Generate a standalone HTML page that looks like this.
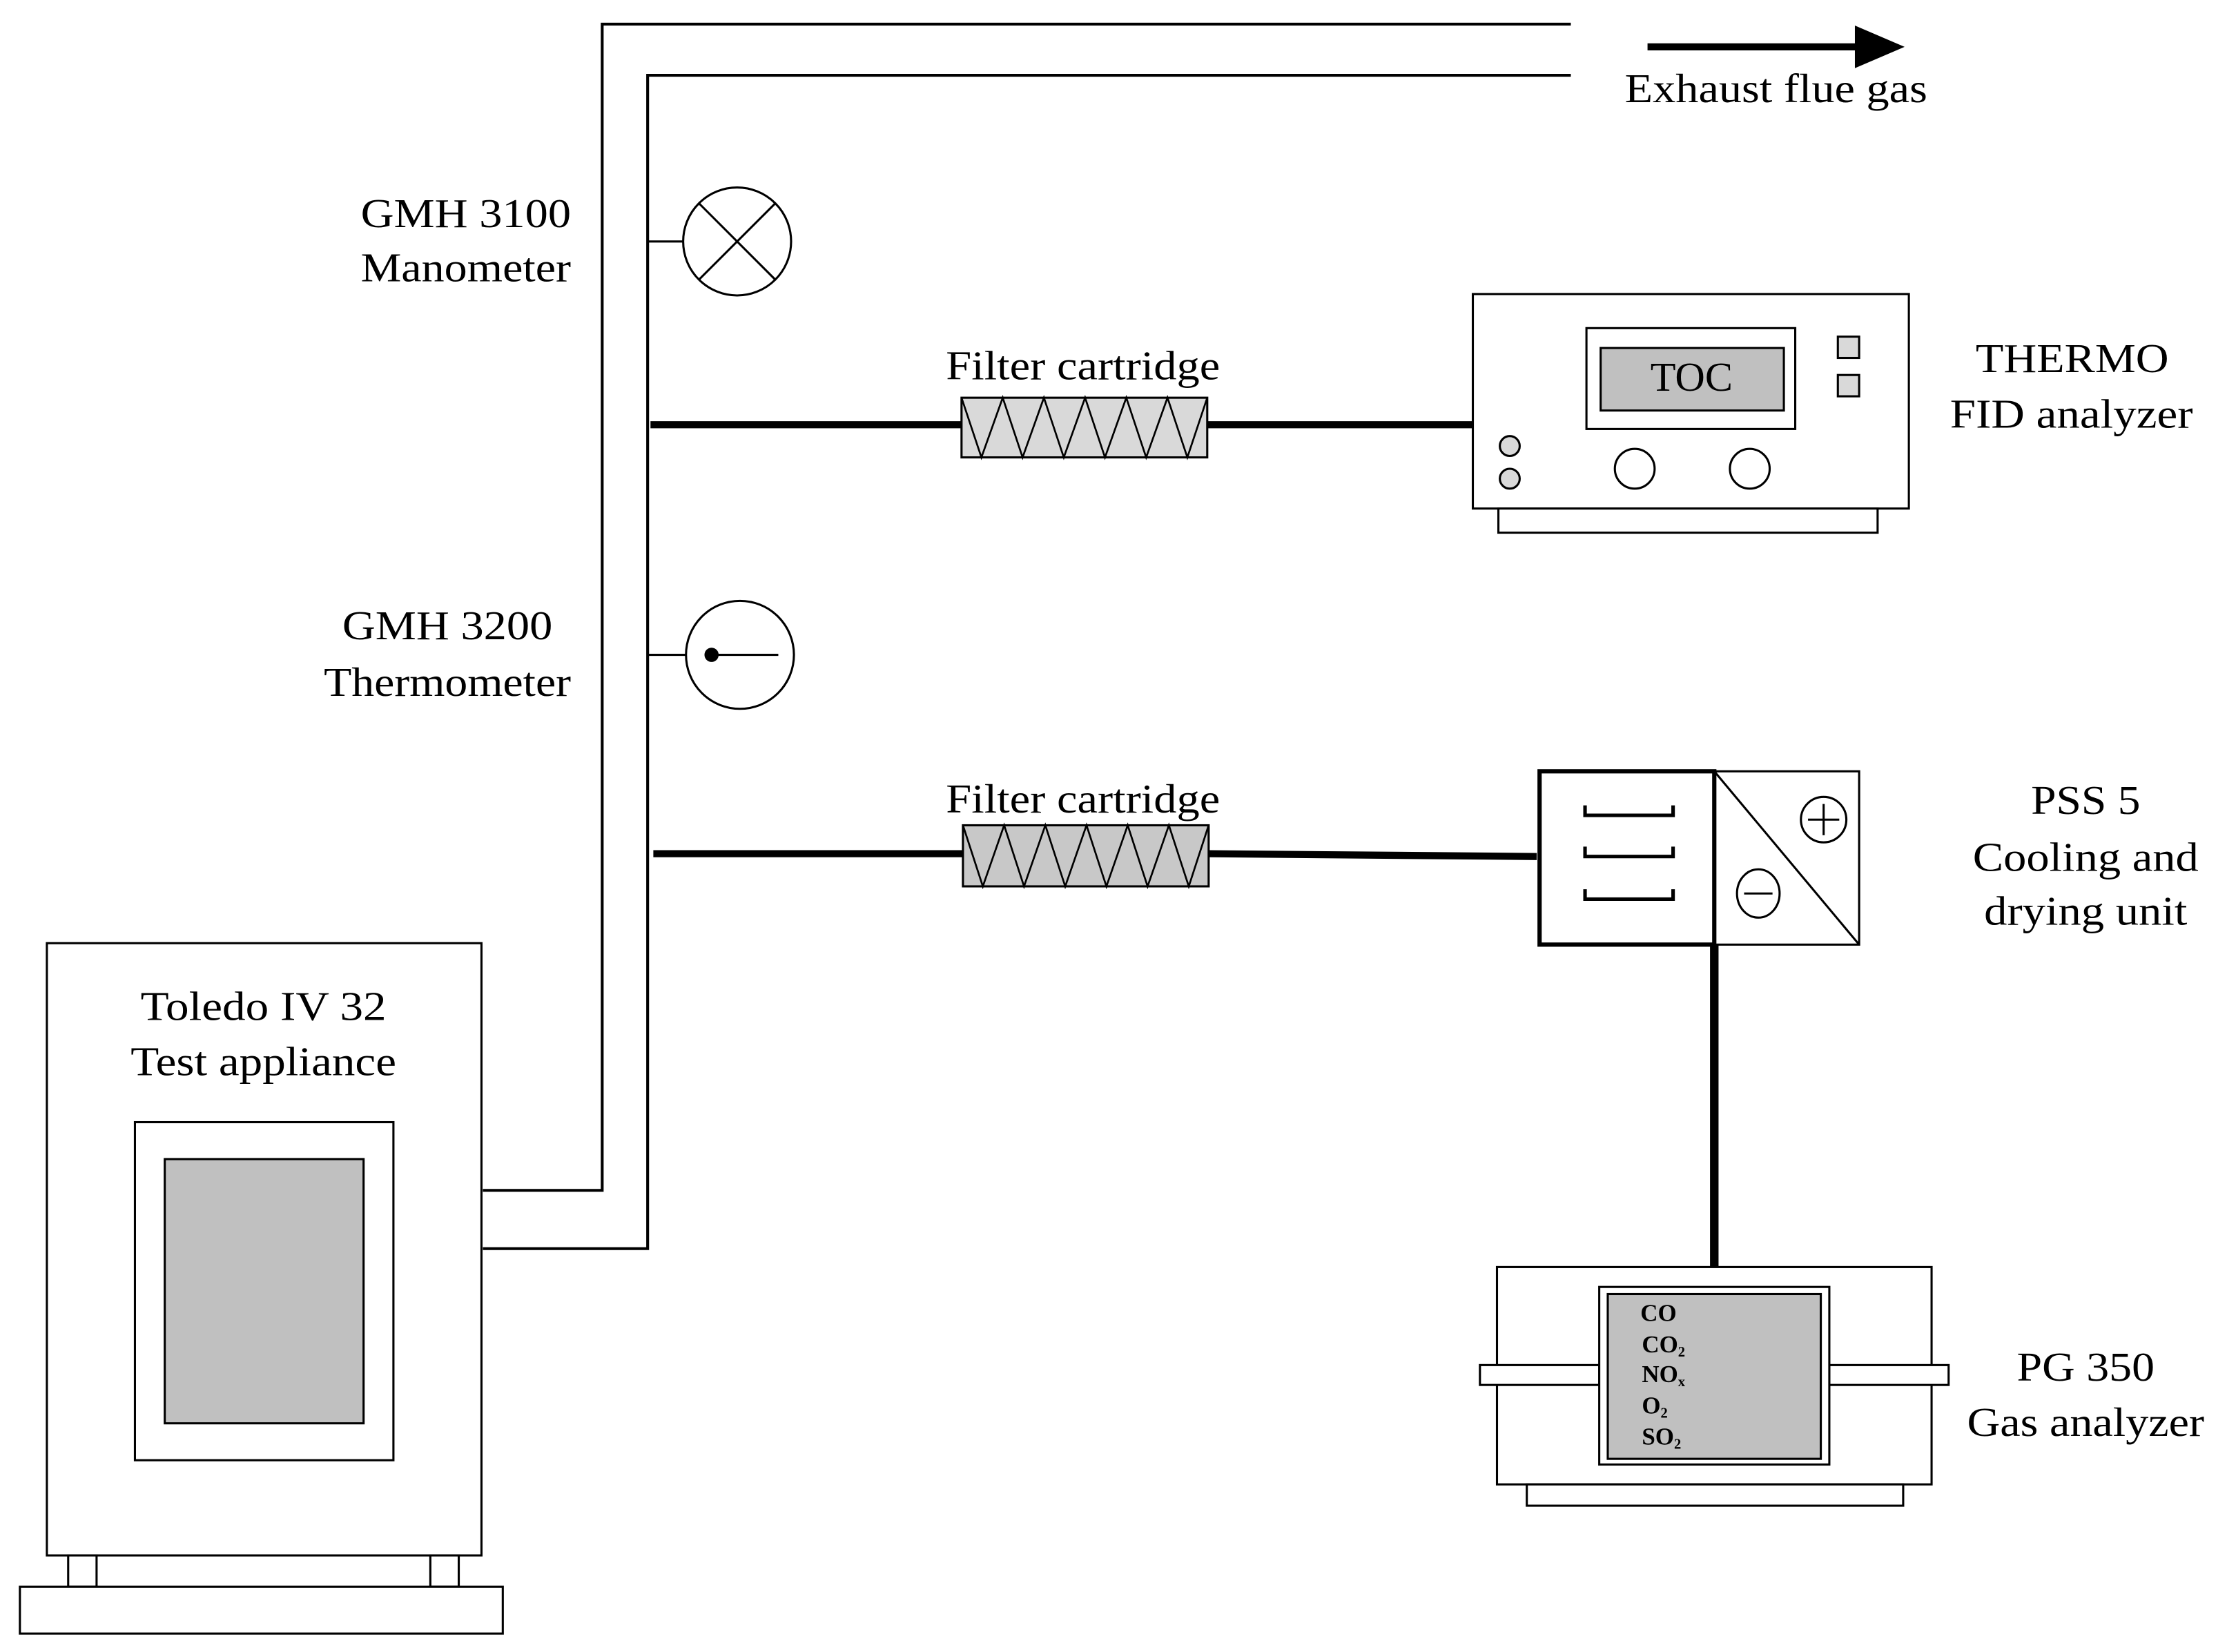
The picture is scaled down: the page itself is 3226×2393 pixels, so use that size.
<!DOCTYPE html>
<html><head><meta charset="utf-8"><style>html,body{margin:0;padding:0;background:#fff}svg{display:block}</style></head>
<body>
<svg width="3226" height="2393" viewBox="0 0 1568 1163" preserveAspectRatio="none" xmlns="http://www.w3.org/2000/svg" font-family="Liberation Serif, serif" font-size="29">
<rect width="1568" height="1163" fill="#fff"/>
<g fill="none" stroke="#000" stroke-width="2">
<polyline points="340,838 424,838 424,17 1106,17"/>
<polyline points="340,879 456,879 456,53 1106,53"/>
</g>
<line x1="1160" y1="33" x2="1312" y2="33" stroke="#000" stroke-width="5"/>
<polygon points="1306,18 1341,33 1306,48" fill="#000"/>
<text x="1144" y="72" textLength="213" lengthAdjust="spacingAndGlyphs">Exhaust flue gas</text>

<!-- manometer -->
<line x1="456" y1="170" x2="481" y2="170" stroke="#000" stroke-width="1.5"/>
<circle cx="519" cy="170" r="38" fill="#fff" stroke="#000" stroke-width="1.5"/>
<line x1="492" y1="143" x2="546" y2="197" stroke="#000" stroke-width="1.5"/>
<line x1="546" y1="143" x2="492" y2="197" stroke="#000" stroke-width="1.5"/>
<text x="254" y="160" textLength="148" lengthAdjust="spacingAndGlyphs">GMH 3100</text>
<text x="254" y="198" textLength="148" lengthAdjust="spacingAndGlyphs">Manometer</text>

<!-- thermometer -->
<line x1="456" y1="461" x2="483" y2="461" stroke="#000" stroke-width="1.5"/>
<circle cx="521" cy="461" r="38" fill="#fff" stroke="#000" stroke-width="1.5"/>
<circle cx="501" cy="461" r="5" fill="#000"/>
<line x1="501" y1="461" x2="548" y2="461" stroke="#000" stroke-width="1.5"/>
<text x="241" y="450" textLength="148" lengthAdjust="spacingAndGlyphs">GMH 3200</text>
<text x="228" y="490" textLength="174" lengthAdjust="spacingAndGlyphs">Thermometer</text>

<!-- filter 1 -->
<line x1="458" y1="299" x2="677" y2="299" stroke="#000" stroke-width="5"/>
<line x1="850" y1="299" x2="1037" y2="299" stroke="#000" stroke-width="5"/>
<rect x="677" y="280" width="173" height="42" fill="#d9d9d9" stroke="#000" stroke-width="1.5"/>
<polyline points="677,280 691,322 706,280 720,322 735,280 749,322 764,280 778,322 793,280 807,322 822,280 836,322 850,280" fill="none" stroke="#000" stroke-width="1.3"/>
<text x="666" y="267" textLength="193" lengthAdjust="spacingAndGlyphs">Filter cartridge</text>

<!-- filter 2 -->
<line x1="460" y1="601" x2="678" y2="601" stroke="#000" stroke-width="5"/>
<line x1="851" y1="601" x2="1082" y2="603" stroke="#000" stroke-width="5"/>
<rect x="678" y="581" width="173" height="43" fill="#c8c8c8" stroke="#000" stroke-width="1.5"/>
<polyline points="678,581 692,624 707,581 721,624 736,581 750,624 765,581 779,624 794,581 808,624 823,581 837,624 851,581" fill="none" stroke="#000" stroke-width="1.3"/>
<text x="666" y="572" textLength="193" lengthAdjust="spacingAndGlyphs">Filter cartridge</text>

<!-- FID -->
<g stroke="#000" stroke-width="1.5">
<rect x="1037" y="207" width="307" height="151" fill="#fff"/>
<rect x="1055" y="358" width="267" height="17" fill="#fff"/>
<rect x="1117" y="231" width="147" height="71" fill="#fff"/>
<rect x="1127" y="245" width="129" height="44" fill="#c0c0c0"/>
<rect x="1294" y="237" width="15" height="15" fill="#d9d9d9"/>
<rect x="1294" y="264" width="15" height="15" fill="#d9d9d9"/>
<circle cx="1063" cy="314" r="7" fill="#d9d9d9"/>
<circle cx="1063" cy="337" r="7" fill="#d9d9d9"/>
<circle cx="1151" cy="330" r="14" fill="#fff"/>
<circle cx="1232" cy="330" r="14" fill="#fff"/>
</g>
<text x="1162" y="275" textLength="58" lengthAdjust="spacingAndGlyphs">TOC</text>
<text x="1391" y="262" textLength="136" lengthAdjust="spacingAndGlyphs">THERMO</text>
<text x="1373" y="301" textLength="171" lengthAdjust="spacingAndGlyphs">FID analyzer</text>

<!-- PSS -->
<line x1="1207" y1="665" x2="1207" y2="893" stroke="#000" stroke-width="6"/>
<rect x="1207" y="543" width="102" height="122" fill="#fff" stroke="#000" stroke-width="1.5"/>
<line x1="1207" y1="543" x2="1309" y2="665" stroke="#000" stroke-width="1.5"/>
<rect x="1084" y="543" width="123" height="122" fill="#fff" stroke="#000" stroke-width="3"/>
<g fill="none" stroke="#000" stroke-width="2.5">
<polyline points="1116,567 1116,574 1178,574 1178,567"/>
<polyline points="1116,596 1116,603 1178,603 1178,596"/>
<polyline points="1116,626 1116,633 1178,633 1178,626"/>
</g>
<g fill="none" stroke="#000" stroke-width="1.5">
<circle cx="1284" cy="577" r="16"/>
<line x1="1273" y1="577" x2="1295" y2="577"/><line x1="1284" y1="566" x2="1284" y2="588"/>
<ellipse cx="1238" cy="629" rx="15" ry="17"/>
<line x1="1228" y1="629" x2="1248" y2="629"/>
</g>
<text x="1430" y="573" textLength="77" lengthAdjust="spacingAndGlyphs">PSS 5</text>
<text x="1389" y="613" textLength="159" lengthAdjust="spacingAndGlyphs">Cooling and</text>
<text x="1397" y="651" textLength="143" lengthAdjust="spacingAndGlyphs">drying unit</text>

<!-- PG350 -->
<g stroke="#000" stroke-width="1.5">
<rect x="1054" y="892" width="306" height="153" fill="#fff"/>
<rect x="1075" y="1045" width="265" height="15" fill="#fff"/>
<rect x="1042" y="961" width="84" height="14" fill="#fff"/>
<rect x="1288" y="961" width="84" height="14" fill="#fff"/>
<rect x="1126" y="906" width="162" height="125" fill="#fff"/>
<rect x="1132" y="911" width="150" height="116" fill="#c0c0c0"/>
</g>
<g font-size="17" font-weight="bold">
<text x="1155" y="930">CO</text>
<text x="1156" y="952">CO<tspan font-size="10" dy="3">2</tspan></text>
<text x="1156" y="973">NO<tspan font-size="10" dy="3">x</tspan></text>
<text x="1156" y="995">O<tspan font-size="10" dy="3">2</tspan></text>
<text x="1156" y="1017">SO<tspan font-size="10" dy="3">2</tspan></text>
</g>
<text x="1420" y="972" textLength="97" lengthAdjust="spacingAndGlyphs">PG 350</text>
<text x="1385" y="1011" textLength="167" lengthAdjust="spacingAndGlyphs">Gas analyzer</text>

<!-- appliance -->
<g stroke="#000" stroke-width="1.5">
<rect x="33" y="664" width="306" height="431" fill="#fff"/>
<rect x="95" y="790" width="182" height="238" fill="#fff"/>
<rect x="116" y="816" width="140" height="186" fill="#c0c0c0"/>
<rect x="48" y="1095" width="20" height="22" fill="#fff"/>
<rect x="303" y="1095" width="20" height="22" fill="#fff"/>
<rect x="14" y="1117" width="340" height="33" fill="#fff"/>
</g>
<text x="99" y="718" textLength="173" lengthAdjust="spacingAndGlyphs">Toledo IV 32</text>
<text x="92" y="757" textLength="187" lengthAdjust="spacingAndGlyphs">Test appliance</text>
</svg>
</body></html>
